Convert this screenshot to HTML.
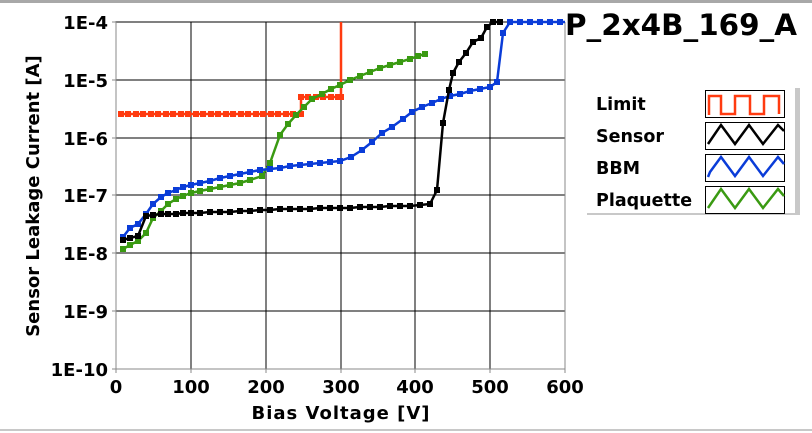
<!DOCTYPE html>
<html><head><meta charset="utf-8"><style>
body{margin:0;background:#fff;}
svg{display:block;font-family:"DejaVu Sans","Liberation Sans",sans-serif;font-weight:bold;}
</style></head><body>
<svg width="812" height="433" viewBox="0 0 812 433" xmlns="http://www.w3.org/2000/svg">
<defs>
<marker id="mr" markerWidth="6" markerHeight="6" refX="3" refY="3" markerUnits="userSpaceOnUse"><rect width="6" height="6" fill="#ff3b10"/></marker>
<marker id="mk" markerWidth="6" markerHeight="6" refX="3" refY="3" markerUnits="userSpaceOnUse"><rect width="6" height="6" fill="#000"/></marker>
<marker id="mb" markerWidth="6" markerHeight="6" refX="3" refY="3" markerUnits="userSpaceOnUse"><rect width="6" height="6" fill="#0a3cd8"/></marker>
<marker id="mg" markerWidth="6" markerHeight="6" refX="3" refY="3" markerUnits="userSpaceOnUse"><rect width="6" height="6" fill="#3a9a12"/></marker>
</defs>
<rect x="0" y="0" width="812" height="3" fill="#a8a8a8"/>
<rect x="0" y="429" width="812" height="2" fill="#c8c8c8"/>
<g stroke="#000" stroke-width="1">
<line x1="116" y1="80" x2="565" y2="80"/><line x1="116" y1="138" x2="565" y2="138"/>
<line x1="116" y1="195" x2="565" y2="195"/><line x1="116" y1="253" x2="565" y2="253"/>
<line x1="116" y1="311" x2="565" y2="311"/><line x1="116" y1="22" x2="565" y2="22"/>
<line x1="191" y1="22" x2="191" y2="369"/><line x1="266" y1="22" x2="266" y2="369"/>
<line x1="341" y1="22" x2="341" y2="369"/><line x1="415" y1="22" x2="415" y2="369"/>
<line x1="490" y1="22" x2="490" y2="369"/>
</g>
<line x1="116" y1="21" x2="116" y2="370" stroke="#888"/>
<line x1="116" y1="369" x2="565" y2="369" stroke="#888"/>
<line x1="565" y1="22" x2="565" y2="369" stroke="#888"/>
<g stroke="#888"><line x1="112" y1="22" x2="116" y2="22"/><line x1="112" y1="80" x2="116" y2="80"/><line x1="112" y1="138" x2="116" y2="138"/><line x1="112" y1="195" x2="116" y2="195"/><line x1="112" y1="253" x2="116" y2="253"/><line x1="112" y1="311" x2="116" y2="311"/><line x1="112" y1="369" x2="116" y2="369"/>
<line x1="116" y1="369" x2="116" y2="373"/><line x1="191" y1="369" x2="191" y2="373"/><line x1="266" y1="369" x2="266" y2="373"/><line x1="341" y1="369" x2="341" y2="373"/><line x1="415" y1="369" x2="415" y2="373"/><line x1="490" y1="369" x2="490" y2="373"/><line x1="565" y1="369" x2="565" y2="373"/></g>
<polyline fill="none" stroke="#ff3b10" stroke-width="2.5" marker-mid="url(#mr)" marker-start="url(#mr)" points="121,114 128,114 136,114 143,114 151,114 158,114 166,114 173,114 181,114 188,114 196,114 203,114 211,114 218,114 226,114 233,114 241,114 248,114 256,114 263,114 271,114 278,114 286,114 293,114 301,114 301,97 308,97 316,97 323,97 331,97 338,97 341,97 341,22"/>
<polyline fill="none" stroke="#3a9a12" stroke-width="2.5" marker-mid="url(#mg)" marker-start="url(#mg)" marker-end="url(#mg)" points="123,249 130,245 138,241 146,233 153,218 161,211 168,204 176,199 183,196 191,193 200,191 210,189 220,187 230,185 240,183 250,180 262,176 270,163 280,135 288,124 296,115 304,107 312,99 322,94 331,89 340,85 350,80 360,76 370,72 380,68 390,65 400,62 410,59 418,56 425,54"/>
<polyline fill="none" stroke="#0a3cd8" stroke-width="2.5" marker-mid="url(#mb)" marker-start="url(#mb)" points="123,237 130,228 138,224 146,214 153,204 161,197 168,193 176,190 183,187 191,185 200,183 210,181 220,178 230,176 240,174 250,172 260,170 270,169 280,168 290,166 300,165 310,164 320,163 330,162 340,161 351,157 362,150 372,142 382,133 392,127 403,119 412,112 422,107 432,103 441,99 450,96 460,94 470,91 480,89 490,87 497,82 503,33 510,22 520,22 530,22 540,22 550,22 560,22 565,22"/>
<polyline fill="none" stroke="#000" stroke-width="2.5" marker-mid="url(#mk)" marker-start="url(#mk)" marker-end="url(#mk)" points="123,240 130,238 138,236 146,216 153,215 161,214 168,214 176,214 183,213 191,213 200,213 210,212 220,212 230,212 240,211 250,211 260,210 270,210 280,209 290,209 300,209 310,209 320,208 330,208 340,208 350,208 360,207 370,207 380,207 390,206 400,206 410,206 420,205 430,204 437,190 443,123 449,90 453,73 459,62 466,53 473,42 481,38 487,27 493,22 500,22"/>
<g font-size="18" text-anchor="end" fill="#000">
<text x="108" y="29">1E-4</text><text x="108" y="87">1E-5</text><text x="108" y="145">1E-6</text><text x="108" y="202">1E-7</text><text x="108" y="260">1E-8</text><text x="108" y="318">1E-9</text><text x="108" y="376">1E-10</text>
</g>
<g font-size="18" text-anchor="middle" fill="#000">
<text x="116" y="393">0</text><text x="191" y="393">100</text><text x="266" y="393">200</text><text x="341" y="393">300</text><text x="415" y="393">400</text><text x="490" y="393">500</text><text x="565" y="393">600</text>
</g>
<text x="341" y="419" font-size="18" text-anchor="middle" letter-spacing="1">Bias Voltage [V]</text>
<text transform="translate(39,196) rotate(-90)" font-size="18" text-anchor="middle">Sensor Leakage Current [A]</text>
<text x="565" y="35" font-size="29" textLength="232" lengthAdjust="spacingAndGlyphs">P_2x4B_169_A</text>
<rect x="587" y="88" width="213" height="127" fill="#c8c8c8"/>
<rect x="583" y="85" width="212" height="128" fill="#fff"/>
<g font-size="17.5" fill="#000">
<text x="596" y="110">Limit</text><text x="596" y="142">Sensor</text><text x="596" y="174">BBM</text><text x="596" y="206">Plaquette</text>
</g>
<g stroke="#000" stroke-width="1" fill="#fff">
<rect x="705.5" y="90.5" width="79" height="27"/><rect x="705.5" y="122.5" width="79" height="27"/><rect x="705.5" y="154.5" width="79" height="27"/><rect x="705.5" y="186.5" width="79" height="27"/>
</g>
<polyline fill="none" stroke="#ff3b10" stroke-width="2.5" points="709,115 709,96 721,96 721,114 735,114 735,96 750,96 750,114 764,114 764,96 779,96 779,114"/>
<polyline fill="none" stroke="#000" stroke-width="2.5" points="708,144 721,125 735,144 749,125 763,144 778,125 784,131"/>
<polyline fill="none" stroke="#0a3cd8" stroke-width="2.5" points="708,177 710,172 721,157 735,176 749,157 763,176 778,157 784,164"/>
<polyline fill="none" stroke="#3a9a12" stroke-width="2.5" points="708,208 721,189 735,208 749,189 763,208 778,189 784,196"/>
</svg>
</body></html>
